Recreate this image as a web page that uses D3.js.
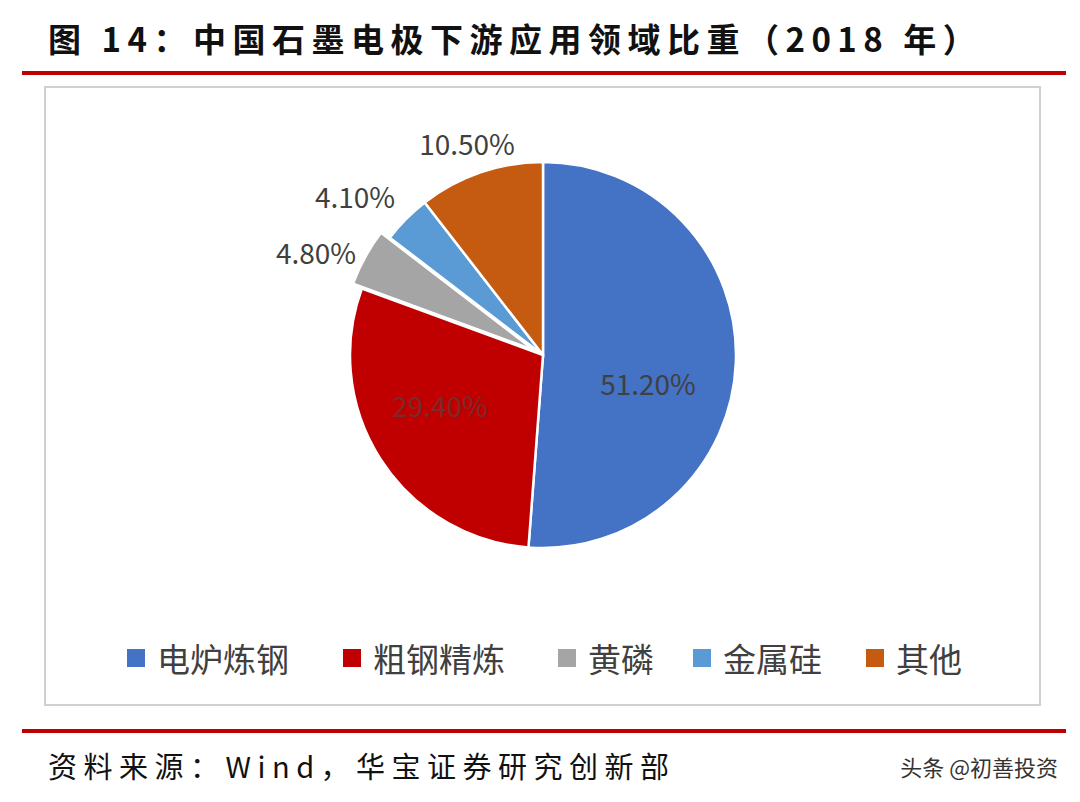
<!DOCTYPE html>
<html><head><meta charset="utf-8">
<script src="https://cdn.jsdelivr.net/npm/d3@7"></script>
<style>body{margin:0;background:#fff}</style>
</head><body>
<svg id="c" width="1080" height="802"></svg>
<script>
// Data
const categories = ['电炉炼钢', '粗钢精炼', '黄磷', '金属硅', '其他'];
const values = [51.2, 29.4, 4.8, 4.1, 10.5];
const labels = ['51.20%', '29.40%', '4.80%', '4.10%', '10.50%'];
const colors = ['#4472C4', '#C00000', '#A5A5A5', '#5B9BD5', '#C55A11'];

const svg = d3.select('#c');
const font = '"Noto Sans CJK SC","Noto Sans",sans-serif';

// Title + rules
svg.append('text').attr('x', 48).attr('y', 52).attr('font-family', font)
  .attr('font-size', 33).attr('font-weight', 'bold').attr('fill', '#111')
  .attr('letter-spacing', 6.5)
  .text('图 14：中国石墨电极下游应用领域比重（2018 年）');
svg.append('rect').attr('x', 22).attr('y', 71).attr('width', 1044).attr('height', 4).attr('fill', '#C00000');
svg.append('rect').attr('x', 22).attr('y', 729).attr('width', 1044).attr('height', 4).attr('fill', '#C00000');
svg.append('rect').attr('x', 45).attr('y', 87).attr('width', 995).attr('height', 618)
  .attr('fill', 'none').attr('stroke', '#d0d0d0').attr('stroke-width', 2);

// Pie
const cx = 543, cy = 355, R = 193;
const pie = d3.pie().sort(null)(values);
const arc = d3.arc().innerRadius(0).outerRadius(R);
const g = svg.append('g').attr('transform', `translate(${cx},${cy})`);
g.selectAll('path').data(pie).join('path')
  .attr('d', arc).attr('fill', (d, i) => colors[i])
  .attr('stroke', '#fff').attr('stroke-width', 2.5)
  .attr('transform', (d, i) => {
    if (i !== 2) return null;
    const a = (d.startAngle + d.endAngle) / 2, off = 10;
    return `translate(${off * Math.sin(a)},${-off * Math.cos(a)})`;
  });

// Labels (inside for big slices, outside for small)
const labelPos = [[648, 383], [440, 405], [316, 252], [355, 196], [467, 143]];
svg.selectAll('text.lbl').data(labels).join('text').attr('class', 'lbl')
  .attr('x', (d, i) => labelPos[i][0]).attr('y', (d, i) => labelPos[i][1])
  .attr('text-anchor', 'middle').attr('dominant-baseline', 'central')
  .attr('font-family', font).attr('font-size', 28)
  .attr('fill', (d, i) => i === 1 ? '#7a2a2a' : '#404040').text(d => d);

// Legend
const legX = [127, 343, 558, 693, 866];
const lg = svg.selectAll('g.leg').data(categories).join('g').attr('class', 'leg')
  .attr('transform', (d, i) => `translate(${legX[i]},658)`);
lg.append('rect').attr('x', 0).attr('y', -9).attr('width', 18).attr('height', 18)
  .attr('fill', (d, i) => colors[i]);
lg.append('text').attr('x', 30).attr('y', 0).attr('dominant-baseline', 'central')
  .attr('font-family', font).attr('font-size', 33).attr('fill', '#404040').text(d => d);

// Source + watermark
svg.append('text').attr('x', 48).attr('y', 778).attr('font-family', font)
  .attr('font-size', 29).attr('fill', '#111').attr('letter-spacing', 6.5)
  .text('资料来源：Wind，华宝证券研究创新部');
svg.append('text').attr('x', 1058).attr('y', 776).attr('text-anchor', 'end').attr('font-family', font)
  .attr('font-size', 22).attr('fill', '#333').text('头条 @初善投资');
</script>
</body></html>
